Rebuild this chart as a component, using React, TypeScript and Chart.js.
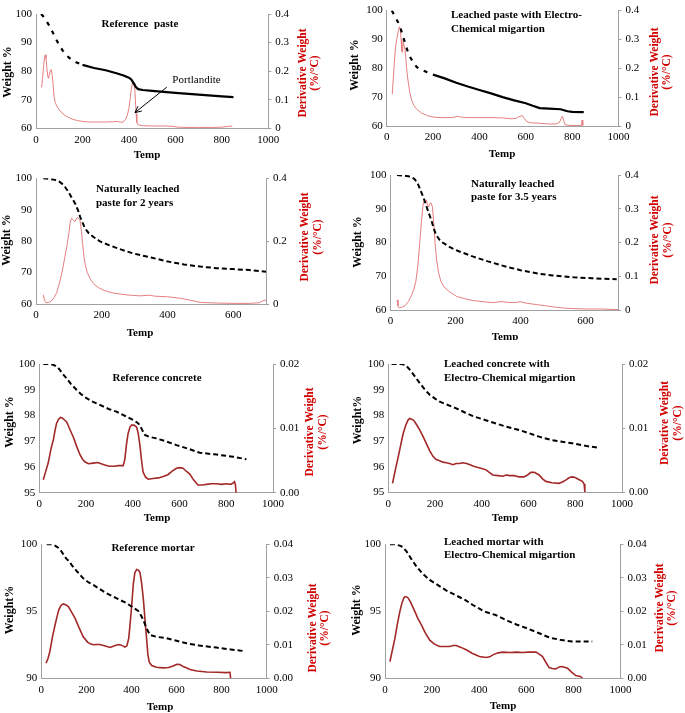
import React, { useEffect, useRef } from 'react';
import { Chart, registerables } from 'chart.js';

Chart.register(...registerables);

const SERIF = '"Liberation Serif", "Times New Roman", serif';
const AXIS = '#a0a0a0';

type Pt = [number, number];

// ---------- DATA (temperature °C, value) ----------
const refPasteWeight: Pt[] = [[22,100],[30,99.3],[40,98.2],[50,96.9],[60,95.5],[70,93.9],[80,92.3],[90,90.6],[100,89.1],[115,87.2],[130,85.6],[150,84.2],[175,83],[200,82.2],[250,81.1],[300,80.3],[350,79.2],[380,78.4],[400,77.7],[410,77.1],[420,75.8],[430,74.4],[440,73.7],[460,73.4],[500,73.1],[600,72.4],[700,71.8],[800,71.2],[850,70.9]];
const refPasteDeriv: Pt[] = [[24,0.143],[28,0.17],[33,0.22],[37,0.25],[40,0.257],[43,0.245],[47,0.21],[51,0.18],[54,0.175],[58,0.19],[62,0.203],[66,0.205],[70,0.185],[74,0.15],[78,0.11],[83,0.09],[90,0.077],[100,0.065],[110,0.055],[125,0.045],[140,0.038],[160,0.031],[180,0.027],[200,0.024],[230,0.022],[260,0.022],[300,0.022],[330,0.023],[350,0.024],[365,0.021],[375,0.022],[385,0.03],[393,0.045],[400,0.07],[405,0.1],[410,0.135],[415,0.158],[418,0.165],[422,0.158],[425,0.14],[428,0.1],[431,0.05],[434,0.02],[440,0.012],[460,0.009],[500,0.008],[560,0.008],[590,0.007],[610,0.004],[650,0.003],[700,0.003],[760,0.003],[800,0.004],[830,0.007],[845,0.008]];

const leachedPasteWeight: Pt[] = [[22,100],[30,98.8],[40,97.3],[50,95.8],[60,93.8],[70,91.2],[80,88.5],[90,86],[100,84],[115,82],[130,80.4],[150,79.5],[175,78.6],[200,77.8],[250,76.5],[300,75],[350,73.7],[400,72.5],[450,71.3],[500,70],[550,68.9],[600,67.9],[630,67],[660,66.2],[700,66],[750,65.8],[780,65.1],[800,64.9],[850,64.8]];
const leachedPasteDeriv: Pt[] = [[24,0.11],[28,0.16],[33,0.22],[38,0.27],[43,0.3],[50,0.33],[55,0.344],[59,0.335],[62,0.3],[65,0.26],[68,0.255],[71,0.29],[74,0.29],[78,0.27],[82,0.24],[86,0.2],[90,0.17],[95,0.14],[100,0.115],[108,0.088],[118,0.07],[130,0.058],[150,0.045],[175,0.036],[200,0.031],[230,0.029],[260,0.029],[290,0.03],[305,0.034],[320,0.031],[340,0.029],[400,0.029],[450,0.029],[500,0.028],[540,0.025],[560,0.027],[575,0.034],[585,0.036],[595,0.025],[605,0.015],[620,0.011],[650,0.01],[700,0.007],[730,0.007],[745,0.012],[752,0.025],[758,0.034],[763,0.02],[770,0.004],[790,0.002],[820,0.002],[840,0.002],[843,0.02],[846,0.002]];

const natural2yWeight: Pt[] = [[22,100],[40,99.8],[58,99.5],[70,99],[78,98.4],[88,97.3],[98,95.8],[108,94],[119,92],[128,89.8],[134,87.8],[142,85.8],[149,84.1],[160,82.6],[174,81.4],[195,79.9],[225,78.6],[260,77.3],[296,76.1],[350,74.8],[397,73.6],[450,72.6],[500,71.9],[550,71.4],[600,71.1],[650,70.8],[700,70.3]];
const natural2yDeriv: Pt[] = [[22,0.029],[26,0.012],[30,0.004],[38,0.005],[45,0.008],[55,0.02],[63,0.036],[72,0.07],[80,0.105],[88,0.15],[95,0.19],[100,0.225],[104,0.26],[108,0.273],[113,0.268],[118,0.262],[122,0.27],[126,0.275],[130,0.27],[134,0.266],[138,0.235],[142,0.19],[146,0.15],[150,0.125],[156,0.1],[165,0.08],[175,0.065],[190,0.052],[210,0.042],[235,0.035],[260,0.031],[296,0.027],[320,0.026],[345,0.028],[360,0.025],[400,0.023],[440,0.018],[470,0.012],[500,0.005],[550,0.003],[600,0.002],[650,0.002],[680,0.004],[690,0.01],[700,0.013]];

const natural35yWeight: Pt[] = [[20,100],[40,99.8],[55,99.6],[65,99.4],[75,98.7],[85,97.2],[96,94.6],[104,92.6],[111,90.6],[119,88.4],[127,86.2],[133,84.2],[140,82.3],[150,80.9],[160,80],[183,78.6],[210,77.4],[255,75.8],[300,74.4],[357,72.8],[400,71.8],[460,70.7],[500,70.2],[563,69.7],[620,69.4],[696,69.1]];
const natural35yDeriv: Pt[] = [[20,0.03],[23,0.012],[27,0.006],[35,0.008],[45,0.013],[55,0.025],[65,0.044],[72,0.062],[78,0.085],[84,0.13],[90,0.2],[95,0.26],[100,0.31],[104,0.325],[110,0.326],[114,0.31],[117,0.305],[121,0.315],[125,0.317],[129,0.305],[133,0.26],[137,0.2],[142,0.148],[148,0.11],[155,0.085],[165,0.068],[180,0.055],[204,0.04],[230,0.033],[255,0.028],[290,0.024],[317,0.022],[340,0.025],[350,0.024],[368,0.022],[385,0.022],[399,0.025],[419,0.02],[450,0.016],[481,0.012],[510,0.008],[542,0.005],[600,0.003],[650,0.003],[701,0.001]];

const refConcreteWeight: Pt[] = [[17,100],[40,100],[60,99.97],[75,99.9],[88,99.77],[100,99.62],[117,99.44],[135,99.23],[160,98.99],[180,98.82],[202,98.67],[230,98.53],[259,98.41],[300,98.24],[330,98.15],[370,97.97],[402,97.82],[420,97.72],[430,97.63],[440,97.44],[452,97.24],[470,97.17],[501,97.11],[540,97.0],[587,96.85],[640,96.7],[687,96.55],[750,96.49],[829,96.4],[886,96.3]];
const refConcreteDeriv: Pt[] = [[17,0.002],[25,0.003],[38,0.0046],[50,0.0068],[60,0.0082],[68,0.0098],[74,0.0108],[82,0.0114],[90,0.0117],[98,0.0116],[108,0.0113],[117,0.011],[130,0.0099],[145,0.0087],[160,0.0072],[174,0.0059],[185,0.0052],[195,0.0048],[210,0.0045],[231,0.0046],[250,0.0047],[265,0.0045],[280,0.0043],[300,0.0041],[320,0.0041],[340,0.0042],[359,0.0042],[366,0.0052],[373,0.0075],[380,0.0092],[388,0.0102],[395,0.0105],[405,0.0105],[416,0.0102],[423,0.0093],[430,0.0075],[437,0.0052],[444,0.0032],[455,0.0024],[466,0.0021],[487,0.0022],[510,0.0023],[530,0.0025],[550,0.0028],[570,0.0034],[587,0.0038],[600,0.0039],[615,0.0038],[630,0.0033],[644,0.0029],[660,0.002],[679,0.0012],[700,0.0012],[715,0.0013],[735,0.0014],[758,0.0014],[780,0.0013],[800,0.0014],[820,0.0013],[829,0.0015],[835,0.0017],[839,0.0013],[842,0]];

const leachedConcreteWeight: Pt[] = [[14,100],[57,100],[70,99.97],[78,99.92],[88,99.82],[99,99.7],[115,99.5],[135,99.25],[155,99.02],[177,98.8],[200,98.65],[220,98.53],[250,98.42],[291,98.27],[330,98.1],[362,97.97],[420,97.8],[504,97.56],[570,97.4],[645,97.17],[700,97.03],[787,96.91],[850,96.8],[894,96.74]];
const leachedConcreteDeriv: Pt[] = [[18,0.0014],[30,0.0035],[43,0.0056],[55,0.0077],[64,0.0092],[75,0.0105],[85,0.0113],[92,0.0115],[99,0.0114],[106,0.0113],[113,0.011],[125,0.0103],[135,0.0097],[150,0.0086],[163,0.0076],[177,0.0065],[191,0.0056],[205,0.0051],[220,0.0049],[234,0.0047],[248,0.0046],[262,0.0045],[277,0.0043],[290,0.0045],[305,0.0045],[319,0.0046],[335,0.0045],[350,0.0043],[362,0.0041],[380,0.0039],[400,0.0037],[418,0.0035],[432,0.0031],[447,0.0027],[470,0.0026],[490,0.0025],[504,0.0027],[520,0.0026],[540,0.0026],[560,0.0024],[580,0.0024],[596,0.0027],[610,0.0031],[625,0.0031],[645,0.0027],[660,0.0021],[674,0.0017],[700,0.0015],[730,0.0014],[745,0.0016],[759,0.0019],[775,0.0023],[787,0.0024],[800,0.0023],[815,0.002],[830,0.0017],[838,0.0013],[841,0]];

const refMortarWeight: Pt[] = [[24,100],[45,100],[61,99.9],[75,99.75],[88,99.5],[98,99.25],[110,98.95],[125,98.7],[135,98.45],[160,97.95],[186,97.46],[210,97.15],[231,96.97],[260,96.65],[290,96.34],[330,96.0],[379,95.6],[410,95.25],[430,95.02],[442,94.7],[453,94.35],[465,93.8],[482,93.23],[510,93.1],[556,92.99],[600,92.8],[645,92.61],[700,92.45],[778,92.29],[840,92.15],[896,92.04]];
const refMortarDeriv: Pt[] = [[21,0.0045],[30,0.006],[38,0.008],[50,0.0125],[61,0.0159],[70,0.0185],[78,0.0205],[88,0.0218],[98,0.0222],[110,0.0219],[120,0.0214],[135,0.0197],[150,0.0179],[165,0.0155],[186,0.0124],[205,0.0108],[220,0.0102],[231,0.01],[245,0.0101],[260,0.0101],[280,0.0097],[305,0.0092],[325,0.0097],[342,0.0101],[355,0.0099],[371,0.0093],[380,0.0097],[388,0.012],[395,0.017],[402,0.0225],[408,0.028],[415,0.0315],[423,0.0325],[431,0.0323],[438,0.0315],[445,0.0285],[453,0.0235],[460,0.0175],[467,0.012],[473,0.007],[479,0.0048],[490,0.0038],[510,0.0033],[540,0.0031],[565,0.0032],[585,0.0037],[601,0.0042],[615,0.0041],[630,0.0035],[660,0.0026],[690,0.0022],[734,0.0019],[780,0.0018],[820,0.0017],[837,0.0018],[840,0]];

const leachedMortarWeight: Pt[] = [[21,100],[45,100],[63,99.9],[75,99.8],[92,99.45],[110,98.95],[134,98.33],[160,97.8],[190,97.34],[225,96.95],[261,96.55],[300,96.2],[340,95.85],[373,95.47],[420,95.0],[470,94.72],[514,94.35],[560,94.0],[600,93.75],[655,93.36],[690,93.1],[711,92.99],[750,92.85],[796,92.74],[880,92.74]];
const leachedMortarDeriv: Pt[] = [[21,0.005],[30,0.008],[42,0.0119],[52,0.016],[63,0.0199],[72,0.0225],[80,0.024],[85,0.0244],[92,0.0243],[99,0.0239],[110,0.0225],[127,0.0199],[140,0.0178],[155,0.0159],[170,0.0137],[190,0.0114],[210,0.0102],[232,0.0095],[255,0.0095],[275,0.0095],[290,0.0098],[303,0.0098],[320,0.0093],[345,0.0085],[370,0.0075],[401,0.0065],[430,0.0062],[445,0.0064],[458,0.007],[480,0.0076],[500,0.0078],[530,0.0077],[560,0.0078],[585,0.0077],[610,0.0078],[641,0.0078],[655,0.0072],[669,0.0065],[683,0.0048],[697,0.0032],[710,0.0029],[725,0.0028],[740,0.0034],[750,0.0035],[762,0.0033],[775,0.003],[790,0.002],[810,0.0008],[825,0.0006],[831,0.0005],[838,0]];

// Portlandite annotation (data coordinates of panel 1)
const portlanditeLabel: Pt = [587, 76.9];
const portlanditeArrowFrom: Pt = [563, 74.4];
const portlanditeArrowTo: Pt = [426, 65.5];

// ---------- LAYOUT ----------
interface TextItem { t: string; x: number; y: number; size: number; bold?: boolean; color?: string; align?: CanvasTextAlign; rot?: boolean; }
interface PanelCfg {
  box: [number, number, number, number];
  area: [number, number, number, number];
  xMax: number;
  yMin: number; yMax: number; yStep: number;
  y1Max: number; y1Step: number; y1Dec: number;
  weight: Pt[]; deriv: Pt[];
  derivColor: string; derivWidth: number;
  solidFrom?: number;
  texts: TextItem[];
  arrow?: boolean;
}

const RED = '#d00000';
const LIGHT = '#e57f7f';
const DARK = '#a32828';

const rightTitle = (a: string, x1: number, x2: number, y: number): TextItem[] => [
  { t: a, x: x1, y, size: 11.5, bold: true, color: RED, rot: true },
  { t: '(%/°C)', x: x2, y, size: 11.5, bold: true, color: RED, rot: true },
];

const PANELS: PanelCfg[] = [
  {
    box: [0, 0, 340, 162], area: [36, 14, 268.3, 128.3], xMax: 1000,
    yMin: 60, yMax: 100, yStep: 10, y1Max: 0.4, y1Step: 0.1, y1Dec: 1,
    weight: refPasteWeight, deriv: refPasteDeriv, derivColor: LIGHT, derivWidth: 1, solidFrom: 195, arrow: true,
    texts: [
      { t: 'Reference  paste', x: 140, y: 24, size: 11, bold: true, align: 'center' },
      { t: 'Weight %', x: 8, y: 72, size: 12, bold: true, rot: true },
      { t: 'Temp', x: 147, y: 155, size: 11, bold: true, align: 'center' },
      ...rightTitle('Derivative Weight', 303, 315, 73),
    ],
  },
  {
    box: [340, 0, 345, 162], area: [386.7, 6, 618.5, 126], xMax: 1000,
    yMin: 60, yMax: 100, yStep: 10, y1Max: 0.4, y1Step: 0.1, y1Dec: 1,
    weight: leachedPasteWeight, deriv: leachedPasteDeriv, derivColor: LIGHT, derivWidth: 1, solidFrom: 195,
    texts: [
      { t: 'Leached paste with Electro-', x: 451, y: 15, size: 11, bold: true, align: 'left' },
      { t: 'Chemical migartion', x: 451, y: 29, size: 11, bold: true, align: 'left' },
      { t: 'Weight %', x: 355, y: 65, size: 12, bold: true, rot: true },
      { t: 'Temp', x: 502, y: 154, size: 11, bold: true, align: 'center' },
      ...rightTitle('Derivative Weight', 655, 667, 72),
    ],
  },
  {
    box: [0, 162, 340, 178], area: [36, 178.3, 266, 304], xMax: 700,
    yMin: 60, yMax: 100, yStep: 10, y1Max: 0.4, y1Step: 0.2, y1Dec: 1,
    weight: natural2yWeight, deriv: natural2yDeriv, derivColor: LIGHT, derivWidth: 1,
    texts: [
      { t: 'Naturally leached', x: 96, y: 189, size: 11, bold: true, align: 'left' },
      { t: 'paste for 2 years', x: 96, y: 203, size: 11, bold: true, align: 'left' },
      { t: 'Weight %', x: 7, y: 240, size: 12, bold: true, rot: true },
      { t: 'Temp', x: 140, y: 333, size: 11, bold: true, align: 'center' },
      ...rightTitle('Derivative Weight', 305, 318, 237),
    ],
  },
  {
    box: [340, 162, 345, 178], area: [390.5, 175, 618, 310], xMax: 700,
    yMin: 60, yMax: 100, yStep: 10, y1Max: 0.4, y1Step: 0.1, y1Dec: 1,
    weight: natural35yWeight, deriv: natural35yDeriv, derivColor: LIGHT, derivWidth: 1,
    texts: [
      { t: 'Naturally leached', x: 471, y: 184, size: 11, bold: true, align: 'left' },
      { t: 'paste for 3.5 years', x: 471, y: 197, size: 11, bold: true, align: 'left' },
      { t: 'Weight %', x: 358, y: 242, size: 12, bold: true, rot: true },
      { t: 'Temp', x: 505, y: 337, size: 11, bold: true, align: 'center' },
      ...rightTitle('Derivative Weight', 655, 668, 240),
    ],
  },
  {
    box: [0, 340, 340, 185], area: [39.3, 364, 273, 492.7], xMax: 1000,
    yMin: 95, yMax: 100, yStep: 1, y1Max: 0.02, y1Step: 0.01, y1Dec: 2,
    weight: refConcreteWeight, deriv: refConcreteDeriv, derivColor: DARK, derivWidth: 1.6,
    texts: [
      { t: 'Reference concrete', x: 157, y: 378, size: 11, bold: true, align: 'center' },
      { t: 'Weight %', x: 10, y: 422, size: 12, bold: true, rot: true },
      { t: 'Temp', x: 157, y: 518, size: 11, bold: true, align: 'center' },
      ...rightTitle('Derivative Weight', 310, 323, 432),
    ],
  },
  {
    box: [340, 340, 345, 185], area: [388.3, 364, 622, 492.3], xMax: 1000,
    yMin: 95, yMax: 100, yStep: 1, y1Max: 0.02, y1Step: 0.01, y1Dec: 2,
    weight: leachedConcreteWeight, deriv: leachedConcreteDeriv, derivColor: DARK, derivWidth: 1.6,
    texts: [
      { t: 'Leached concrete with', x: 444, y: 364, size: 11, bold: true, align: 'left' },
      { t: 'Electro-Chemical migartion', x: 444, y: 378, size: 11, bold: true, align: 'left' },
      { t: 'Weight%', x: 358, y: 420, size: 12, bold: true, rot: true },
      { t: 'Temp', x: 505, y: 518, size: 11, bold: true, align: 'center' },
      ...rightTitle('Deivative Weight', 665, 678, 423),
    ],
  },
  {
    box: [0, 525, 340, 188], area: [41.3, 544.3, 266.7, 678.3], xMax: 1000,
    yMin: 90, yMax: 100, yStep: 5, y1Max: 0.04, y1Step: 0.01, y1Dec: 2,
    weight: refMortarWeight, deriv: refMortarDeriv, derivColor: DARK, derivWidth: 1.6,
    texts: [
      { t: 'Reference mortar', x: 153, y: 548, size: 11, bold: true, align: 'center' },
      { t: 'Weight%', x: 10, y: 610, size: 12, bold: true, rot: true },
      { t: 'Temp', x: 160, y: 707, size: 11, bold: true, align: 'center' },
      ...rightTitle('Derivative Weight', 313, 325, 628),
    ],
  },
  {
    box: [340, 525, 345, 188], area: [385, 544.3, 620.5, 678.3], xMax: 1000,
    yMin: 90, yMax: 100, yStep: 5, y1Max: 0.04, y1Step: 0.01, y1Dec: 2,
    weight: leachedMortarWeight, deriv: leachedMortarDeriv, derivColor: DARK, derivWidth: 1.6,
    texts: [
      { t: 'Leached mortar with', x: 444, y: 542, size: 11, bold: true, align: 'left' },
      { t: 'Electro-Chemical migartion', x: 444, y: 555, size: 11, bold: true, align: 'left' },
      { t: 'Weight %', x: 357, y: 610, size: 12, bold: true, rot: true },
      { t: 'Temp', x: 503, y: 706, size: 11, bold: true, align: 'center' },
      ...rightTitle('Derivative Weight', 660, 672, 608),
    ],
  },
];

function makeChart(canvas: HTMLCanvasElement, p: PanelCfg): Chart {
  const [bx, by, bw, bh] = p.box;
  const [al, at, ar, ab] = p.area;
  const leftW = al - bx;
  const rightW = bx + bw - ar;
  const padTop = at - by;
  const bottomH = by + bh - ab;

  const textPlugin = {
    id: 'panelText',
    afterDraw(chart: any) {
      const ctx: CanvasRenderingContext2D = chart.ctx;
      ctx.save();
      for (const it of p.texts) {
        ctx.font = `${it.bold ? 'bold ' : ''}${it.size}px ${SERIF}`;
        ctx.fillStyle = it.color || '#000';
        ctx.textBaseline = 'middle';
        const x = it.x - bx;
        const y = it.y - by;
        if (it.rot) {
          ctx.save();
          ctx.translate(x, y);
          ctx.rotate(-Math.PI / 2);
          ctx.textAlign = 'center';
          ctx.fillText(it.t, 0, 0);
          ctx.restore();
        } else {
          ctx.textAlign = it.align || 'center';
          ctx.fillText(it.t, x, y);
        }
      }
      if (p.arrow) {
        const xs = chart.scales.x;
        const ys = chart.scales.y;
        const lx = xs.getPixelForValue(portlanditeLabel[0]);
        const ly = ys.getPixelForValue(portlanditeLabel[1]);
        ctx.font = `11px ${SERIF}`;
        ctx.fillStyle = '#000';
        ctx.textAlign = 'left';
        ctx.textBaseline = 'middle';
        ctx.fillText('Portlandite', lx, ly);
        const x1 = xs.getPixelForValue(portlanditeArrowFrom[0]);
        const y1 = ys.getPixelForValue(portlanditeArrowFrom[1]);
        const x2 = xs.getPixelForValue(portlanditeArrowTo[0]);
        const y2 = ys.getPixelForValue(portlanditeArrowTo[1]);
        ctx.strokeStyle = '#000';
        ctx.lineWidth = 1;
        ctx.beginPath();
        ctx.moveTo(x1, y1);
        ctx.lineTo(x2, y2);
        const ang = Math.atan2(y2 - y1, x2 - x1);
        const hl = 7;
        ctx.moveTo(x2 - hl * Math.cos(ang - 0.45), y2 - hl * Math.sin(ang - 0.45));
        ctx.lineTo(x2, y2);
        ctx.lineTo(x2 - hl * Math.cos(ang + 0.45), y2 - hl * Math.sin(ang + 0.45));
        ctx.stroke();
      }
      ctx.restore();
    },
  };

  const tickFont = { family: SERIF, size: 11 };
  const solidFrom = p.solidFrom;

  return new Chart(canvas, {
    type: 'line',
    data: {
      datasets: [
        {
          data: p.weight.map(([x, y]) => ({ x, y })),
          yAxisID: 'y',
          borderColor: '#000',
          borderWidth: solidFrom ? 2.2 : 2,
          borderDash: solidFrom ? [] : [5, 3],
          pointRadius: 0,
          tension: 0,
          segment: solidFrom
            ? { borderDash: (ctx: any) => (ctx.p0.parsed.x < solidFrom ? [4, 6] : undefined) }
            : undefined,
        } as any,
        {
          data: p.deriv.map(([x, y]) => ({ x, y })),
          yAxisID: 'y1',
          borderColor: p.derivColor,
          borderWidth: p.derivWidth,
          pointRadius: 0,
          tension: 0,
        },
      ],
    },
    options: {
      responsive: false,
      animation: false,
      devicePixelRatio: 1,
      events: [],
      layout: { padding: { top: padTop, left: 0, right: 0, bottom: 0 } },
      plugins: { legend: { display: false }, tooltip: { enabled: false } },
      scales: {
        x: {
          type: 'linear', min: 0, max: p.xMax,
          border: { display: true, color: AXIS, width: 1 },
          grid: { display: false, drawTicks: false },
          ticks: {
            stepSize: 200, includeBounds: false, padding: 5, color: '#000', font: tickFont, maxRotation: 0, autoSkip: false,
            callback: (v: any) => String(Number(v)),
          },
          afterFit: (s: any) => { s.height = bottomH; },
        },
        y: {
          type: 'linear', position: 'left', min: p.yMin, max: p.yMax,
          border: { display: true, color: AXIS, width: 1 },
          grid: { display: false, drawTicks: false },
          ticks: { stepSize: p.yStep, padding: 4, color: '#000', font: tickFont, callback: (v: any) => String(Number(v)) },
          afterFit: (s: any) => { s.width = leftW; },
        },
        y1: {
          type: 'linear', position: 'right', min: 0, max: p.y1Max,
          border: { display: true, color: AXIS, width: 1 },
          grid: { display: true, drawOnChartArea: false, drawTicks: true, tickLength: 3, color: AXIS },
          ticks: {
            stepSize: p.y1Step, padding: 4, color: '#000', font: tickFont,
            callback: (v: any) => {
              const n = Number(v);
              if (p.y1Dec === 1 && Math.abs(n) < 1e-9) return '0';
              return n.toFixed(p.y1Dec);
            },
          },
          afterFit: (s: any) => { s.width = rightW; },
        },
      } as any,
    },
    plugins: [textPlugin],
  } as any);
}

export default function App() {
  const refs = useRef<(HTMLCanvasElement | null)[]>([]);
  useEffect(() => {
    const charts = PANELS.map((p, i) => makeChart(refs.current[i] as HTMLCanvasElement, p));
    return () => charts.forEach((c) => c.destroy());
  }, []);
  return (
    <div style={{ position: 'absolute', left: 0, top: 0, width: 685, height: 713, background: '#fff', overflow: 'hidden' }}>
      {PANELS.map((p, i) => (
        <canvas
          key={i}
          ref={(el) => { refs.current[i] = el; }}
          width={p.box[2]}
          height={p.box[3]}
          style={{ position: 'absolute', left: p.box[0], top: p.box[1], width: p.box[2], height: p.box[3] }}
        />
      ))}
    </div>
  );
}
